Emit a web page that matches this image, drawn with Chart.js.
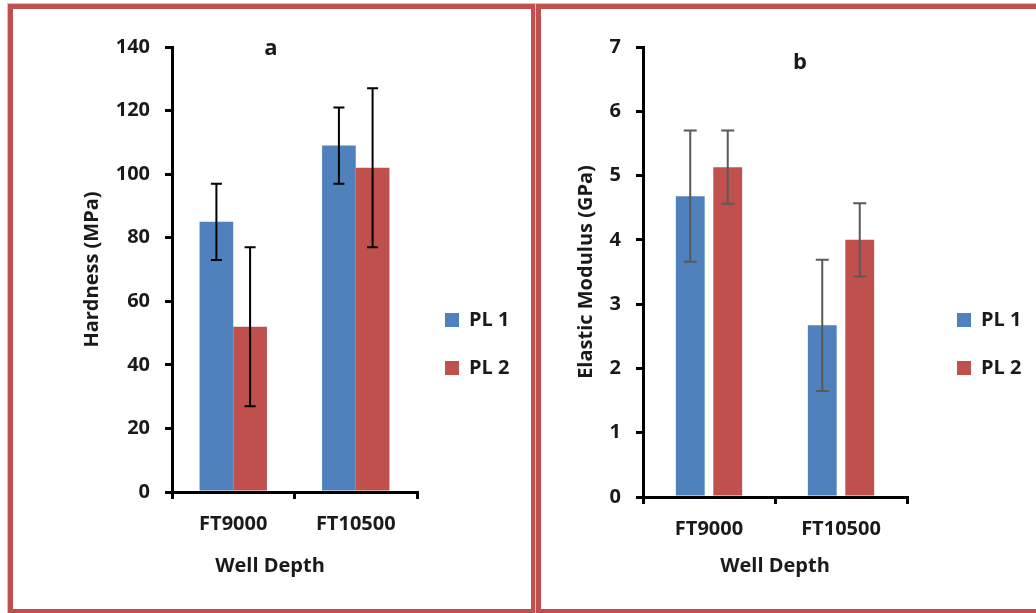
<!DOCTYPE html>
<html>
<head>
<meta charset="utf-8">
<script src="https://cdn.jsdelivr.net/npm/chart.js@4.4.0/dist/chart.umd.min.js"></script>
<style>
  html, body { margin: 0; padding: 0; background: #fff; overflow: hidden; width: 1036px; height: 613px; }
  canvas { position: absolute; top: 0; }
  #chartA { left: 0; }
  #chartB { left: 536px; }
  .panel { position: absolute; top: 4px; height: 610px; border: 5px solid #c0504d; box-sizing: border-box;
           box-shadow: 0 0 0 1px #eab8b7; pointer-events: none; z-index: 2; }
  #panelA { left: 8px; width: 528px; }
  #panelB { left: 536px; width: 520px; }
</style>
</head>
<body>
<canvas id="chartA" width="536" height="641"></canvas>
<canvas id="chartB" width="540" height="641"></canvas>
<div class="panel" id="panelA"></div>
<div class="panel" id="panelB"></div>
<script>
const categories = ["FT9000", "FT10500"];
const seriesNames = ["PL 1", "PL 2"];
const hardnessPL1 = [85, 109];
const hardnessPL2 = [52, 102];
const hardnessErrPL1 = [12, 12];
const hardnessErrPL2 = [25, 25];
const modulusPL1 = [4.68, 2.67];
const modulusPL2 = [5.13, 4.0];
const modulusErrPL1 = [1.02, 1.02];
const modulusErrPL2 = [0.57, 0.57];

const FONT = "'Open Sans', sans-serif";
Chart.defaults.font.family = FONT;
Chart.defaults.font.size = 20;
Chart.defaults.font.weight = "bold";
Chart.defaults.color = "#1a1a1a";

// legend width as Chart.js computes it, so the legend lands where it should
function legendWidth() {
  const ctx = document.createElement("canvas").getContext("2d");
  ctx.font = "bold 20px " + FONT;
  const w = Math.max(...seriesNames.map(t => ctx.measureText(t).width));
  return 28 + 14 + 10 + w + 10;
}
const legW = legendWidth();

// error bars, placed with the bar elements and the y scale
const errorBars = {
  id: "errorBars",
  afterDatasetsDraw(chart, args, opts) {
    const ctx = chart.ctx;
    const y = chart.scales.y;
    ctx.save();
    ctx.strokeStyle = opts.color;
    ctx.lineWidth = opts.width;
    chart.data.datasets.forEach((ds, i) => {
      chart.getDatasetMeta(i).data.forEach((bar, j) => {
        const top = y.getPixelForValue(ds.data[j] + ds.errors[j]);
        const bot = y.getPixelForValue(ds.data[j] - ds.errors[j]);
        const h = opts.cap / 2;
        ctx.beginPath();
        ctx.moveTo(bar.x, top); ctx.lineTo(bar.x, bot);
        ctx.moveTo(bar.x - h, top); ctx.lineTo(bar.x + h, top);
        ctx.moveTo(bar.x - h, bot); ctx.lineTo(bar.x + h, bot);
        ctx.stroke();
      });
    });
    ctx.restore();
  }
};

// free text: panel letter, and the left x title which Excel put off-centre
const freeText = {
  id: "freeText",
  afterDraw(chart, args, opts) {
    const ctx = chart.ctx;
    ctx.save();
    ctx.fillStyle = "#1a1a1a";
    ctx.textAlign = "center";
    ctx.textBaseline = "middle";
    opts.items.forEach(it => {
      ctx.font = "bold " + it.size + "px " + FONT;
      ctx.fillText(it.text, it.x, it.y);
    });
    ctx.restore();
  }
};

// Dureza
new Chart(document.getElementById("chartA"), {
  type: "bar",
  data: {
    labels: categories,
    datasets: [
      { label: seriesNames[0], data: hardnessPL1, errors: hardnessErrPL1, backgroundColor: "#4f81bd" },
      { label: seriesNames[1], data: hardnessPL2, errors: hardnessErrPL2, backgroundColor: "#c0504d" }
    ]
  },
  plugins: [errorBars, freeText],
  options: {
    responsive: false,
    animation: false,
    layout: { padding: { top: 47, left: 0, right: 536 - 417 - legW, bottom: 0 } },
    datasets: { bar: { categoryPercentage: 0.55, barPercentage: 1, borderWidth: 0 } },
    scales: {
      x: {
        grid: { drawOnChartArea: false, color: "#000", lineWidth: 3, tickLength: 7 },
        border: { color: "#000", width: 3 },
        ticks: { padding: 13 },
        afterFit: s => { s.height = 149; }
      },
      y: {
        min: 0,
        max: 140,
        ticks: { stepSize: 20, padding: 15 },
        grid: { drawOnChartArea: false, color: "#000", lineWidth: 3, tickLength: 7 },
        border: { color: "#000", width: 3 },
        title: { display: true, text: "Hardness (MPa)", padding: { top: 80, bottom: 0 } },
        afterFit: s => { s.width = 172; }
      }
    },
    plugins: {
      legend: { position: "right", labels: { boxWidth: 14, boxHeight: 14, padding: 28 } },
      tooltip: { enabled: false },
      errorBars: { color: "#000", width: 2, cap: 11 },
      freeText: { items: [
        { text: "a", size: 22, x: 271, y: 49 },
        { text: "Well Depth", size: 20, x: 270, y: 566 }
      ] }
    }
  }
});

// Módulo elástico
new Chart(document.getElementById("chartB"), {
  type: "bar",
  data: {
    labels: categories,
    datasets: [
      { label: seriesNames[0], data: modulusPL1, errors: modulusErrPL1, backgroundColor: "#4f81bd" },
      { label: seriesNames[1], data: modulusPL2, errors: modulusErrPL2, backgroundColor: "#c0504d" }
    ]
  },
  plugins: [errorBars, freeText],
  options: {
    responsive: false,
    animation: false,
    layout: { padding: { top: 47, left: 0, right: 540 - 393 - legW, bottom: 0 } },
    datasets: { bar: { categoryPercentage: 0.568, barPercentage: 0.77, borderWidth: 0 } },
    scales: {
      x: {
        grid: { drawOnChartArea: false, color: "#000", lineWidth: 3, tickLength: 7 },
        border: { color: "#000", width: 3 },
        ticks: { padding: 13 },
        title: { display: true, text: "Well Depth", padding: { top: 0, bottom: 63 } },
        afterFit: s => { s.height = 144; }
      },
      y: {
        min: 0,
        max: 7,
        ticks: { stepSize: 1, padding: 15 },
        grid: { drawOnChartArea: false, color: "#000", lineWidth: 3, tickLength: 7 },
        border: { color: "#000", width: 3 },
        title: { display: true, text: "Elastic Modulus (GPa)", padding: { top: 38, bottom: 0 } },
        afterFit: s => { s.width = 107; }
      },
      // empty strip between the plot and the legend
      gap: {
        type: "linear",
        position: "right",
        display: false,
        afterFit: s => { s.width = 22; }
      }
    },
    plugins: {
      legend: { position: "right", labels: { boxWidth: 14, boxHeight: 14, padding: 28 } },
      tooltip: { enabled: false },
      errorBars: { color: "#595959", width: 2, cap: 13 },
      freeText: { items: [{ text: "b", size: 22, x: 264, y: 63 }] }
    }
  }
});
</script>
</body>
</html>
